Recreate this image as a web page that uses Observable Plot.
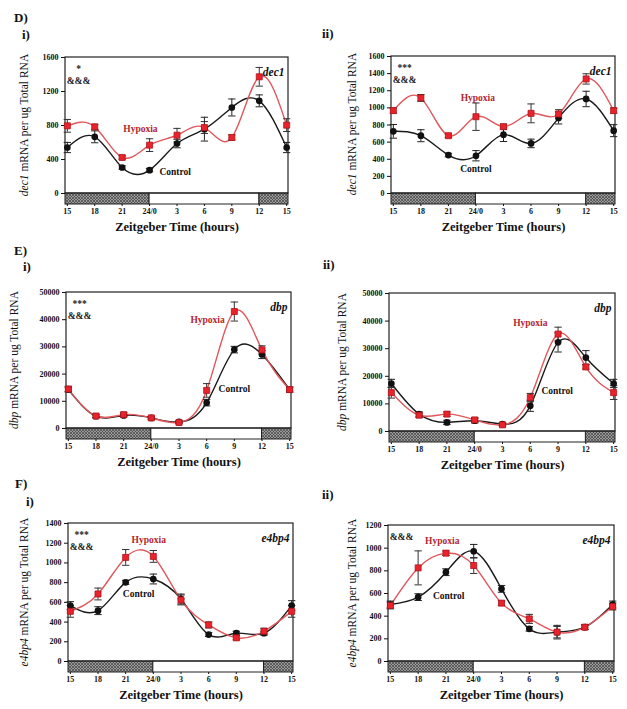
<!DOCTYPE html>
<html><head><meta charset="utf-8">
<script src="https://cdn.jsdelivr.net/npm/d3@7"></script>
<script src="https://cdn.jsdelivr.net/npm/@observablehq/plot@0.6"></script>
<style>
body{margin:0;background:#fff}
#fig{position:relative;width:627px;height:709px;overflow:hidden;background:#fff;font-family:"Liberation Serif","DejaVu Serif",serif;color:#111}
#fig svg, #fig svg text{font-family:"Liberation Serif","DejaVu Serif",serif !important}
.lbl{position:absolute;font-weight:bold;font-size:13px;line-height:1;transform:translateY(-50%)}
.ylab{position:absolute;font-size:11.5px;line-height:1;white-space:nowrap;transform:translate(-50%,-50%) rotate(-90deg)}
.panel{position:absolute}
</style></head><body>
<svg width="0" height="0" style="position:absolute">
<defs>
<pattern id="hatch" width="3" height="3" patternUnits="userSpaceOnUse">
<rect width="3" height="3" fill="#9a9a9a"/>
<path d="M0,0L3,3M0,3L3,0" stroke="#444" stroke-width="0.7"/>
</pattern>
</defs>
</svg>
<div id="fig"></div>
<script>
// Zeitgeber time (continuous hours) and tick labels
const zt = [15, 18, 21, 24, 27, 30, 33, 36, 39];
const ztLabels = ["15", "18", "21", "24/0", "3", "6", "9", "12", "15"];

// D i) dec1
const dec1_i_ctrl = [541, 667, 306, 275, 588, 757, 1012, 1090, 541];
const dec1_i_ctrlErr = [60, 70, 20, 20, 50, 140, 100, 70, 60];
const dec1_i_hyp = [796, 784, 424, 569, 686, 776, 659, 1373, 804];
const dec1_i_hypErr = [75, 30, 20, 75, 80, 70, 30, 110, 75];
const dec1_i_ticks = [0, 400, 800, 1200, 1600];

// D ii) dec1
const dec1_ii_ctrl = [726, 675, 449, 441, 687, 585, 882, 1104, 734];
const dec1_ii_ctrlErr = [80, 70, 20, 60, 80, 50, 70, 90, 70];
const dec1_ii_hyp = [968, 1116, 675, 897, 780, 936, 929, 1338, 968];
const dec1_ii_hypErr = [30, 40, 20, 160, 30, 110, 50, 60, 30];
const dec1_ii_ticks = [0, 200, 400, 600, 800, 1000, 1200, 1400, 1600];

// E i) dbp
const dbp_i_ctrl = [14300, 4500, 4800, 3900, 2400, 9500, 29000, 27200, 14300];
const dbp_i_ctrlErr = [800, 500, 500, 400, 400, 1200, 1200, 1500, 800];
const dbp_i_hyp = [14500, 4600, 5100, 3900, 2200, 14000, 43000, 28900, 14300];
const dbp_i_hypErr = [1000, 600, 800, 500, 500, 2500, 3500, 1500, 1000];
const dbp_ticks = [0, 10000, 20000, 30000, 40000, 50000];

// E ii) dbp
const dbp_ii_ctrl = [17400, 6300, 3300, 3900, 2700, 9300, 32300, 26800, 17400];
const dbp_ii_ctrlErr = [1500, 800, 800, 800, 500, 2000, 3500, 2500, 1500];
const dbp_ii_hyp = [14100, 5900, 6300, 4200, 2400, 12300, 35300, 23400, 14100];
const dbp_ii_hypErr = [2000, 800, 800, 800, 500, 1500, 2500, 800, 2500];

// F i) e4bp4
const e4bp4_i_ctrl = [567, 516, 803, 837, 634, 273, 287, 287, 567];
const e4bp4_i_ctrlErr = [40, 40, 20, 50, 50, 20, 20, 20, 50];
const e4bp4_i_hyp = [509, 685, 1056, 1066, 624, 371, 240, 307, 509];
const e4bp4_i_hypErr = [60, 60, 80, 60, 50, 30, 20, 30, 60];
const e4bp4_i_ticks = [0, 200, 400, 600, 800, 1000, 1200, 1400];

// F ii) e4bp4
const e4bp4_ii_ctrl = [503, 568, 788, 973, 641, 288, 259, 303, 503];
const e4bp4_ii_ctrlErr = [30, 30, 30, 60, 30, 20, 60, 20, 30];
const e4bp4_ii_hyp = [494, 826, 956, 847, 515, 376, 259, 303, 485];
const e4bp4_ii_hypErr = [30, 150, 20, 70, 20, 40, 50, 20, 30];
const e4bp4_ii_ticks = [0, 200, 400, 600, 800, 1000, 1200];

// light/dark phases (ZT hours)
const darkPhases = [{start: 14.8, end: 24}, {start: 36, end: 39.2}];
const lightPhases = [{start: 24, end: 36}];
const xDomain = [14.8, 39.2];

const panels = [
  {L: 65, T: 57, R: 288, B: 193, ymax: 1600, ticks: dec1_i_ticks, ctrl: dec1_i_ctrl, ctrlErr: dec1_i_ctrlErr, hyp: dec1_i_hyp, hypErr: dec1_i_hypErr,
   gene: "dec1", stats: ["*", "&&&"], hypLbl: {x: 23, y: 760}, ctrlLbl: {x: 26.8, y: 250}, ylab: [25, 125]},
  {L: 391, T: 56, R: 615, B: 193, ymax: 1600, ticks: dec1_ii_ticks, ctrl: dec1_ii_ctrl, ctrlErr: dec1_ii_ctrlErr, hyp: dec1_ii_hyp, hypErr: dec1_ii_hypErr,
   gene: "dec1", stats: ["***", "&&&"], hypLbl: {x: 24.2, y: 1120}, ctrlLbl: {x: 24, y: 290}, ylab: [353, 124]},
  {L: 66, T: 292, R: 291, B: 428, ymax: 50000, ticks: dbp_ticks, ctrl: dbp_i_ctrl, ctrlErr: dbp_i_ctrlErr, hyp: dbp_i_hyp, hypErr: dbp_i_hypErr,
   gene: "dbp", stats: ["***", "&&&"], hypLbl: {x: 30.1, y: 40000}, ctrlLbl: {x: 33, y: 14700}, ylab: [15, 360]},
  {L: 389, T: 293, R: 615, B: 431, ymax: 50000, ticks: dbp_ticks, ctrl: dbp_ii_ctrl, ctrlErr: dbp_ii_ctrlErr, hyp: dbp_ii_hyp, hypErr: dbp_ii_hypErr,
   gene: "dbp", stats: [], hypLbl: {x: 30, y: 39500}, ctrlLbl: {x: 32.9, y: 14800}, ylab: [343, 362]},
  {L: 68, T: 523, R: 293, B: 661, ymax: 1400, ticks: e4bp4_i_ticks, ctrl: e4bp4_i_ctrl, ctrlErr: e4bp4_i_ctrlErr, hyp: e4bp4_i_hyp, hypErr: e4bp4_i_hypErr,
   gene: "e4bp4", stats: ["***", "&&&"], hypLbl: {x: 23.5, y: 1238}, ctrlLbl: {x: 22.4, y: 690}, ylab: [25, 592]},
  {L: 388, T: 525, R: 614, B: 661, ymax: 1200, ticks: e4bp4_ii_ticks, ctrl: e4bp4_ii_ctrl, ctrlErr: e4bp4_ii_ctrlErr, hyp: e4bp4_ii_hyp, hypErr: e4bp4_ii_hypErr,
   gene: "e4bp4", stats: ["&&&"], hypLbl: {x: 20.6, y: 1068}, ctrlLbl: {x: 21.3, y: 582}, ylab: [353, 593]}
];

const letters = [
  {t: "D)", x: 14, y: 17}, {t: "i)", x: 22, y: 34}, {t: "ii)", x: 322, y: 33},
  {t: "E)", x: 14, y: 250}, {t: "i)", x: 23, y: 266}, {t: "ii)", x: 323, y: 264},
  {t: "F)", x: 15, y: 483}, {t: "i)", x: 26, y: 501}, {t: "ii)", x: 322, y: 494}
];

const fig = document.getElementById("fig");
const serif = "'Liberation Serif','DejaVu Serif',serif";

for (const p of panels) {
  const mL = 52, mR = 6, mT = 6, mB = 44, barH = 11;
  const plotH = p.B - p.T;
  const yMin = -p.ymax * barH / plotH;
  const rows = zt.map((x, i) => ({x, c: p.ctrl[i], ce: p.ctrlErr[i], h: p.hyp[i], he: p.hypErr[i]}));
  const frameBox = [{x1: xDomain[0], x2: xDomain[1], y1: 0, y2: p.ymax}];
  const statMarks = p.stats.map((t, i) =>
    Plot.text([t], {frameAnchor: "top-left", textAnchor: "middle", dx: 13, dy: (p.stats.length === 1 ? 8 : 8 + i * 12), fontSize: 9.5, fontWeight: "bold", fill: "#222"}));
  const errBars = (v, e, color) => [
    Plot.ruleX(rows, {x: "x", y1: d => d[v] - d[e], y2: d => d[v] + d[e], stroke: color, strokeWidth: 1}),
    Plot.link(rows, {x1: d => d.x - 0.4, x2: d => d.x + 0.4, y1: d => d[v] + d[e], y2: d => d[v] + d[e], stroke: color, strokeWidth: 1}),
    Plot.link(rows, {x1: d => d.x - 0.4, x2: d => d.x + 0.4, y1: d => d[v] - d[e], y2: d => d[v] - d[e], stroke: color, strokeWidth: 1})
  ];
  const chart = Plot.plot({
    width: p.R - p.L + mL + mR,
    height: plotH + barH + mT + mB,
    marginLeft: mL, marginRight: mR, marginTop: mT, marginBottom: mB,
    style: {fontFamily: serif, background: "transparent", color: "#111"},
    x: {domain: xDomain},
    y: {domain: [yMin, p.ymax]},
    marks: [
      Plot.rect(darkPhases, {x1: "start", x2: "end", y1: yMin, y2: 0, fill: "url(#hatch)", stroke: "#222", strokeWidth: 1}),
      Plot.rect(lightPhases, {x1: "start", x2: "end", y1: yMin, y2: 0, fill: "white", stroke: "#222", strokeWidth: 1}),
      Plot.rect(frameBox, {x1: "x1", x2: "x2", y1: "y1", y2: "y2", fill: "none", stroke: "#222", strokeWidth: 1.2}),
      Plot.axisY({ticks: p.ticks, tickSize: 4, tickPadding: 3, fontSize: 8, fontWeight: "bold", label: null, tickFormat: d => String(d)}),
      Plot.axisX({ticks: zt, tickSize: 2, tickPadding: 2, fontSize: 8, fontWeight: "bold", label: null, tickFormat: d => ztLabels[zt.indexOf(d)]}),
      Plot.text(["Zeitgeber Time (hours)"], {frameAnchor: "bottom", dy: 26, fontSize: 12.5, fontWeight: "bold", fill: "#111"}),
      Plot.line(rows, {x: "x", y: "c", curve: "natural", stroke: "#1a1a1a", strokeWidth: 1.4}),
      Plot.line(rows, {x: "x", y: "h", curve: "natural", stroke: "#e0575c", strokeWidth: 1.4}),
      ...errBars("c", "ce", "#222"),
      ...errBars("h", "he", "#333"),
      Plot.dot(rows, {x: "x", y: "c", symbol: "circle", r: 2.6, fill: "#111", stroke: "#111"}),
      Plot.dot(rows, {x: "x", y: "h", symbol: "square", r: 3.4, fill: "#e8232b", stroke: "#b0141b", strokeWidth: 0.8}),
      Plot.text([p.gene], {frameAnchor: "top-right", dx: -4, dy: 10, fontSize: 11.5, fontWeight: "bold", fontStyle: "italic", fill: "#111"}),
      ...statMarks,
      Plot.text([p.hypLbl], {x: "x", y: "y", text: () => "Hypoxia", fontSize: 9.5, fontWeight: "bold", fill: "#b3262e"}),
      Plot.text([p.ctrlLbl], {x: "x", y: "y", text: () => "Control", fontSize: 9.5, fontWeight: "bold", fill: "#111"})
    ]
  });
  const wrap = document.createElement("div");
  wrap.className = "panel";
  wrap.style.left = (p.L - mL) + "px";
  wrap.style.top = (p.T - mT) + "px";
  wrap.appendChild(chart);
  fig.appendChild(wrap);

  const yl = document.createElement("div");
  yl.className = "ylab";
  yl.style.left = p.ylab[0] + "px";
  yl.style.top = p.ylab[1] + "px";
  yl.innerHTML = "<i>" + p.gene + "</i> mRNA per ug Total RNA";
  fig.appendChild(yl);
}

for (const l of letters) {
  const d = document.createElement("div");
  d.className = "lbl";
  d.style.left = l.x + "px";
  d.style.top = l.y + "px";
  d.textContent = l.t;
  fig.appendChild(d);
}
</script>
</body></html>
